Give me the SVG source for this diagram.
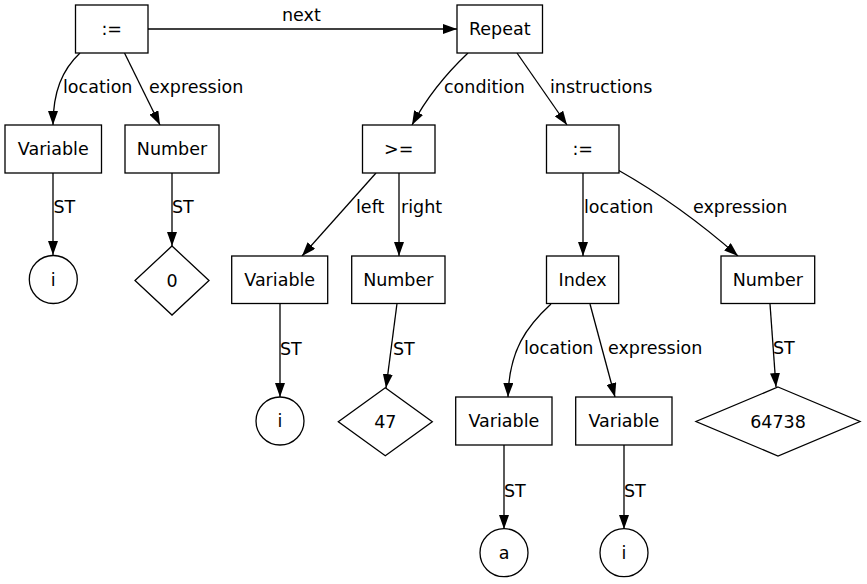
<svg xmlns="http://www.w3.org/2000/svg" width="867" height="584" viewBox="0 0 867 584">
<style>
  .n rect, .n circle, .n polygon { fill: #fff; stroke: #000; stroke-width: 1.3; }
  .n text { font-family: "DejaVu Sans", sans-serif; font-size: 17.5px; text-anchor: middle; fill: #000; }
  .e path { fill: none; stroke: #000; stroke-width: 1.3; marker-end: url(#ah); }
  .e text { font-family: "DejaVu Sans", sans-serif; font-size: 17.5px; fill: #000; }
</style>
<defs>
  <marker id="ah" markerUnits="userSpaceOnUse" markerWidth="14" markerHeight="10" refX="14" refY="5" orient="auto">
    <path d="M0,0 L14,5 L0,10 z" fill="#000"/>
  </marker>
</defs>
<rect width="867" height="584" fill="#fff"/>
<g id="edges" class="e">
  <path d="M148,29 L457,29"/>
  <path d="M80,53 C62,70 53,92 53,125"/>
  <path d="M124.5,53 L160,125"/>
  <path d="M468,53 C450,70 428,95 412,125"/>
  <path d="M517,53 L567,125"/>
  <path d="M53,173 L53,255"/>
  <path d="M172,173 L172,246"/>
  <path d="M376,173 L302,256"/>
  <path d="M399,173 L399,256"/>
  <path d="M583,173 L583,256"/>
  <path d="M618,170 Q680,205 738,256"/>
  <path d="M280,303.5 L280,397"/>
  <path d="M397,303.5 L386,388"/>
  <path d="M551,304 C527,326 509,350 508,397"/>
  <path d="M590,304 L615,397"/>
  <path d="M770,304 L776,387"/>
  <path d="M504,445 L504,529"/>
  <path d="M624,445 L624,529"/>
  <text x="282" y="21">next</text>
  <text x="63" y="93">location</text>
  <text x="149" y="93">expression</text>
  <text x="444" y="93">condition</text>
  <text x="550" y="93">instructions</text>
  <text x="53.5" y="213">ST</text>
  <text x="172" y="213">ST</text>
  <text x="356" y="213">left</text>
  <text x="401" y="213">right</text>
  <text x="584" y="213">location</text>
  <text x="693" y="213">expression</text>
  <text x="280" y="355">ST</text>
  <text x="393" y="355">ST</text>
  <text x="524" y="354">location</text>
  <text x="608" y="354">expression</text>
  <text x="773" y="354">ST</text>
  <text x="504" y="497">ST</text>
  <text x="624" y="497">ST</text>
</g>
<g id="assign1" class="n"><rect x="75.5" y="5" width="72.5" height="48"/><text x="111.75" y="35">:=</text></g>
<g id="repeat" class="n"><rect x="457" y="5" width="85.5" height="48"/><text x="499.75" y="35">Repeat</text></g>
<g id="var1" class="n"><rect x="5" y="125" width="96.5" height="48"/><text x="53.25" y="155">Variable</text></g>
<g id="num1" class="n"><rect x="125" y="125" width="94" height="48"/><text x="172" y="155">Number</text></g>
<g id="ge" class="n"><rect x="362.5" y="125" width="72.5" height="48"/><text x="398.75" y="155">&gt;=</text></g>
<g id="assign2" class="n"><rect x="546.5" y="125" width="72.5" height="48"/><text x="582.75" y="155">:=</text></g>
<g id="sym_i1" class="n"><circle cx="53.3" cy="279.5" r="24"/><text x="53.3" y="285.5">i</text></g>
<g id="val0" class="n"><polygon points="172,246 209,280.5 172,315 135,280.5"/><text x="172" y="286.5">0</text></g>
<g id="var2" class="n"><rect x="231.7" y="256" width="96" height="47.5"/><text x="279.7" y="286">Variable</text></g>
<g id="num2" class="n"><rect x="351.7" y="256" width="93.3" height="47.5"/><text x="398.3" y="286">Number</text></g>
<g id="index" class="n"><rect x="546.5" y="256" width="72.2" height="47.5"/><text x="582.6" y="286">Index</text></g>
<g id="num3" class="n"><rect x="721" y="256" width="93.7" height="47.5"/><text x="767.85" y="286">Number</text></g>
<g id="sym_i2" class="n"><circle cx="280" cy="421" r="24"/><text x="280" y="427">i</text></g>
<g id="val47" class="n"><polygon points="385.3,387.7 432.3,421.7 385.3,455.7 338.3,421.7"/><text x="385.3" y="427.7">47</text></g>
<g id="var3" class="n"><rect x="455.7" y="397" width="96.3" height="48"/><text x="503.85" y="427">Variable</text></g>
<g id="var4" class="n"><rect x="575.7" y="397" width="96.3" height="48"/><text x="623.85" y="427">Variable</text></g>
<g id="val64738" class="n"><polygon points="778,387 860,421.5 778,456 696,421.5"/><text x="778" y="427.5">64738</text></g>
<g id="sym_a" class="n"><circle cx="504" cy="552.7" r="24"/><text x="504" y="558.7">a</text></g>
<g id="sym_i3" class="n"><circle cx="624" cy="552.7" r="24"/><text x="624" y="558.7">i</text></g>
</svg>
